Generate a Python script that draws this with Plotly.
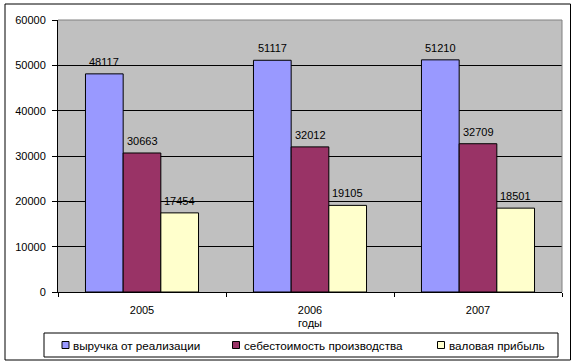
import plotly.graph_objects as go

years = ["2005", "2006", "2007"]
series_names = ["выручка от реализации", "себестоимость производства", "валовая прибыль"]
revenue = [48117, 51117, 51210]
cost = [30663, 32012, 32709]
profit = [17454, 19105, 18501]
y_ticks = [0, 10000, 20000, 30000, 40000, 50000, 60000]
x_title = "годы"

colors = ["#9999FF", "#993366", "#FFFFCC"]
FONT = "Liberation Sans, Arial, sans-serif"

W, H = 576, 364
L, R, T, B = 58, 14, 20, 72
PW, PH = W - L - R, H - T - B
BARGAP = 0.327


def px(x):
    return (x - L) / PW


def py(y):
    return (H - B - y) / PH


all_series = [revenue, cost, profit]
bar_w = PW / len(years) * (1 - BARGAP) / len(all_series)

fig = go.Figure()
annotations = []
for i, (name, vals, col) in enumerate(zip(series_names, all_series, colors)):
    fig.add_trace(go.Bar(
        x=years, y=vals, name=name,
        marker=dict(color=col, line=dict(color="black", width=1)),
        showlegend=False,
    ))
    for j, v in enumerate(vals):
        # x given as category index on the category axis
        annotations.append(dict(xref="x", yref="y", x=j, y=v, text=str(v),
                                xshift=(i - 1) * bar_w, yshift=4,
                                xanchor="center", yanchor="bottom", showarrow=False,
                                font=dict(family=FONT, size=11, color="black")))

shapes = []
# outer border
shapes.append(dict(type="rect", xref="paper", yref="paper",
                   x0=px(5), x1=px(570.5), y0=py(360), y1=py(4),
                   line=dict(color="black", width=1), layer="below"))
# plot area grey top/right border
shapes.append(dict(type="line", xref="paper", yref="paper", x0=0, x1=1, y0=1, y1=1,
                   line=dict(color="#808080", width=1)))
shapes.append(dict(type="line", xref="paper", yref="paper", x0=1, x1=1, y0=0, y1=1,
                   line=dict(color="#808080", width=1)))
# legend box
shapes.append(dict(type="rect", xref="paper", yref="paper",
                   x0=px(44), x1=px(558), y0=py(357), y1=py(333),
                   line=dict(color="black", width=1)))

sq_x = [62, 232.5, 437.5]
for name, col, sx in zip(series_names, colors, sq_x):
    shapes.append(dict(type="rect", xref="paper", yref="paper",
                       x0=px(sx), x1=px(sx + 7), y0=py(348.5), y1=py(341.5),
                       fillcolor=col, line=dict(color="black", width=1)))
    annotations.append(dict(xref="paper", yref="paper", x=px(sx + 9), y=py(345),
                            xanchor="left", yanchor="middle", showarrow=False,
                            text=name, font=dict(family=FONT, size=11.7, color="black")))

fig.update_layout(
    width=W, height=H,
    margin=dict(l=L, r=R, t=T, b=B),
    paper_bgcolor="white", plot_bgcolor="#C0C0C0",
    barmode="group", bargap=BARGAP, bargroupgap=0,
    font=dict(family=FONT, size=11, color="black"),
    shapes=shapes, annotations=annotations,
    xaxis=dict(type="category", categoryarray=years, categoryorder="array",
               range=[-0.5, len(years) - 0.5],
               showline=True, linecolor="black", linewidth=1,
               ticks="outside", tickson="boundaries", ticklen=4, tickcolor="black",
               showgrid=False, tickfont=dict(family=FONT, size=11), automargin=False,
               ticklabelstandoff=8,
               title=dict(text=x_title, standoff=4, font=dict(family=FONT, size=11))),
    yaxis=dict(range=[0, 60000], tickvals=y_ticks, tickformat="d",
               showline=True, linecolor="black", linewidth=1, automargin=False,
               ticks="outside", ticklen=5, tickcolor="black",
               showgrid=True, gridcolor="black", gridwidth=1, zeroline=False,
               tickfont=dict(family=FONT, size=11), ticklabelstandoff=4),
)

fig.write_html("out.html", config={"displayModeBar": False},
               post_script="document.body.style.margin='0';document.body.style.overflow='hidden';")
